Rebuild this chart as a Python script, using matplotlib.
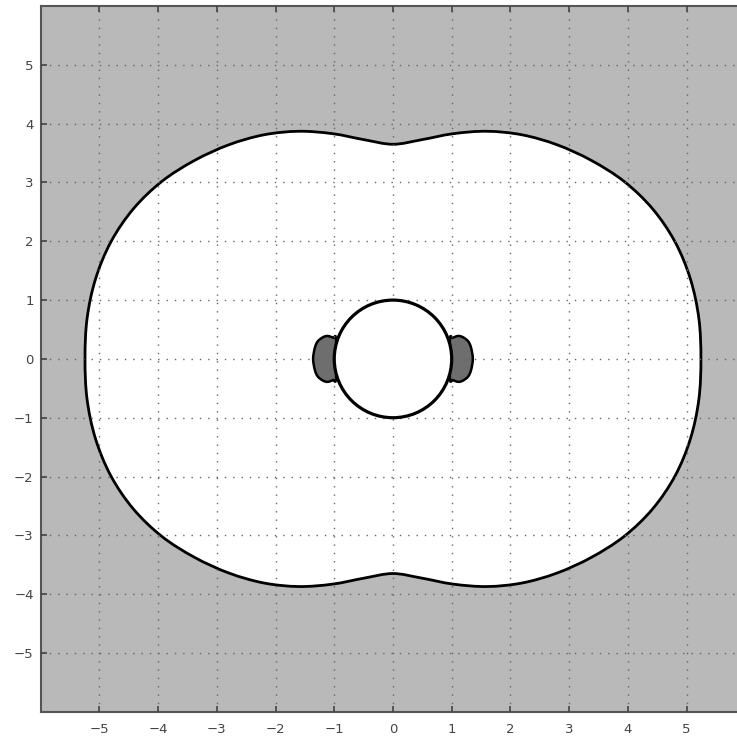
import numpy as np
import matplotlib
matplotlib.use("Agg")
import matplotlib.pyplot as plt
from matplotlib.patches import PathPatch, Circle
from matplotlib.path import Path

# Outer stability boundary in polar form, upper-left quadrant:
# angle (degrees, from the positive real axis) and distance from the origin
outer_theta = [90.0, 97.5, 105.0, 112.5, 120.0, 127.5, 135.0, 142.5, 150.0,
               157.5, 165.0, 172.5, 180.0]
outer_r = [3.65, 3.76, 3.965, 4.19, 4.40, 4.59, 4.775, 4.96, 5.105,
           5.20, 5.245, 5.255, 5.245]

# Inner boundary circle
inner_radius = 1.0

# Left lobe outline, upper half (from the circle to the real axis)
lobe_x = [-0.97, -1.02, -1.11, -1.19, -1.28, -1.33, -1.36]
lobe_y = [0.33, 0.36, 0.39, 0.37, 0.30, 0.19, 0.0]

ticks = [-5, -4, -3, -2, -1, 0, 1, 2, 3, 4, 5]
limits = (-6, 6)

bg_gray = "#b9b9b9"
lobe_gray = "#6e6e6e"


def smooth_closed_path(pts):
    """Closed cubic Bezier path passing through every vertex (Catmull-Rom tangents)."""
    n = len(pts)
    verts = [pts[0]]
    codes = [Path.MOVETO]
    for i in range(n):
        p0, p1, p2, p3 = pts[i - 1], pts[i], pts[(i + 1) % n], pts[(i + 2) % n]
        c1 = p1 + (p2 - p0) / 6.0
        c2 = p2 - (p3 - p1) / 6.0
        verts += [c1, c2, p2]
        codes += [Path.CURVE4] * 3
    verts.append(pts[0])
    codes.append(Path.CLOSEPOLY)
    return Path(np.array(verts), codes)


def mirror_quadrant(xs, ys):
    xs = np.asarray(xs)
    ys = np.asarray(ys)
    q2 = np.column_stack([xs, ys])
    q3 = np.column_stack([xs[::-1], -ys[::-1]])
    q4 = np.column_stack([-xs, -ys])
    q1 = np.column_stack([-xs[::-1], ys[::-1]])
    return np.vstack([q2, q3[1:], q4[1:], q1[1:-1]])


fig = plt.figure(figsize=(7.37, 7.42), dpi=100)
ax = fig.add_axes([0.0552, 0.0408, 0.956, 0.951])
ax.set_facecolor(bg_gray)

th = np.deg2rad(outer_theta)
rr = np.asarray(outer_r)
outline = mirror_quadrant(rr * np.cos(th), rr * np.sin(th))
ax.add_patch(PathPatch(smooth_closed_path(outline), facecolor="white", edgecolor="black",
                       linewidth=2.0, zorder=1))

# lobes on both sides of the circle
lx = np.array(lobe_x)
ly = np.array(lobe_y)
left = np.vstack([np.column_stack([lx, ly]), np.column_stack([lx[::-1], -ly[::-1]])[1:]])
right = left * np.array([-1, 1])
for pts in (left, right):
    ax.add_patch(PathPatch(smooth_closed_path(pts), facecolor=lobe_gray, edgecolor="black",
                           linewidth=1.8, zorder=2))

ax.add_patch(Circle((0, 0), inner_radius, facecolor="white", edgecolor="black",
                    linewidth=2.3, zorder=3))

ax.set_xlim(*limits)
ax.set_ylim(*limits)
ax.set_xticks(ticks)
ax.set_yticks(ticks)
labels = [str(t) if t >= 0 else "\u2212" + str(-t) for t in ticks]
ax.set_xticklabels(labels)
ax.set_yticklabels(labels)
ax.tick_params(direction="in", length=4, width=1.2, color="#444444",
               top=True, right=True, labelsize=9.5, labelcolor="#444444")
ax.tick_params(axis="x", pad=8)
ax.tick_params(axis="y", pad=5)

ax.grid(True, linestyle=(0, (1, 5)), color="#666666", linewidth=1.0)
ax.set_axisbelow(False)
for g in ax.get_xgridlines() + ax.get_ygridlines():
    g.set_zorder(5)

for s in ax.spines.values():
    s.set_color("#555555")
    s.set_linewidth(1.5)

fig.savefig("out.png", dpi=100)
